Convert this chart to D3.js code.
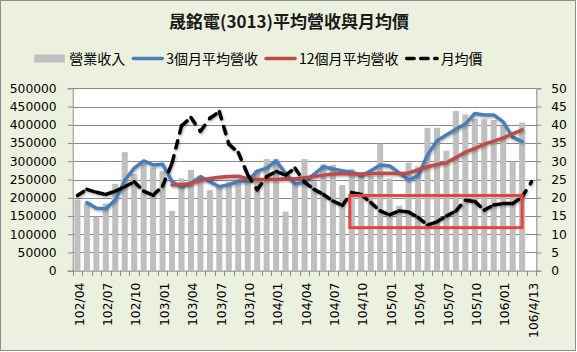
<!DOCTYPE html>
<html><head><meta charset="utf-8">
<script src="https://cdn.jsdelivr.net/npm/d3@7"></script>
<style>body{margin:0;background:#fff}</style>
</head><body>
<svg id="c" width="577" height="352"></svg>
<script>
const title = "晟銘電(3013)平均營收與月均價";
const legendLabels = ["營業收入", "3個月平均營收", "12個月平均營收", "月均價"];
const months = ["102/04","102/05","102/06","102/07","102/08","102/09","102/10","102/11","102/12",
  "103/01","103/02","103/03","103/04","103/05","103/06","103/07","103/08","103/09","103/10","103/11","103/12",
  "104/01","104/02","104/03","104/04","104/05","104/06","104/07","104/08","104/09","104/10","104/11","104/12",
  "105/01","105/02","105/03","105/04","105/05","105/06","105/07","105/08","105/09","105/10","105/11","105/12",
  "106/01","106/02","106/03","106/4/13"];
const revenue = [195000,185000,148000,184000,238000,325000,265000,295000,283000,
  273000,164000,253000,276000,258000,221000,235000,244000,250000,245000,276000,306000,
  306000,162000,240000,306000,245000,292000,290000,235000,279000,268000,259000,348000,
  253000,178000,296000,286000,392000,392000,329000,438000,428000,416000,415000,413000,
  397000,299000,406000,null];
const avg3 = [null,187000,171000,170000,194000,248000,281000,301000,290000,
  292000,244000,230000,240000,258000,244000,230000,236000,245000,246000,273000,281000,
  301000,267000,238000,242000,264000,285000,279000,274000,270000,261000,274000,290000,
  287000,269000,249000,260000,317000,356000,372000,388000,402000,431000,427000,427000,
  408000,366000,354000,null];
const avg12 = [null,null,null,null,null,null,null,null,null,
  null,235000,236000,240000,248000,253000,256000,258000,259000,252000,250000,250000,
  250000,252000,252000,255000,258000,262000,265000,266000,266000,265000,266000,267000,
  267000,266000,268000,276000,285000,291000,296000,310000,325000,335000,347000,355000,
  364000,375000,386000,null];
const price = [20.6,22.3,21.5,20.9,21.8,23.0,24.4,21.8,20.7,
  23.2,29.5,39.7,42.0,38.2,41.8,43.6,34.7,32.4,26.3,22.2,25.8,
  27.2,26.2,28.1,24.3,22.3,20.9,19.1,17.9,21.4,20.9,18.7,16.4,
  15.3,16.4,16.1,14.6,12.5,13.4,15.0,16.4,19.3,19.0,16.6,18.0,
  18.4,18.4,20.2,24.4];
const leftTicks = [0,50000,100000,150000,200000,250000,300000,350000,400000,450000,500000];
const rightTicks = [0,5,10,15,20,25,30,35,40,45,50];
// annotation box (category span and price span)
const boxMonths = ["104/09", "106/03"];
const boxPrice = [11.8, 20.6];

const svg = d3.select("#c");
const W = 577, H = 352;
const P = {l: 72.7, r: 536.3, t: 88.3, b: 270.7};
const tickFont = "'DejaVu Sans', Verdana, sans-serif";
const cjkFont = "'Noto Sans CJK TC', 'Noto Sans CJK SC', sans-serif";

svg.append("rect").attr("x",0.5).attr("y",0.5).attr("width",W-2).attr("height",H-2)
  .attr("fill","#ebf1de").attr("stroke","#8c8c8c");

const defs = svg.append("defs");
const f = defs.append("filter").attr("id","sh").attr("x","-10%").attr("y","-10%").attr("width","120%").attr("height","130%");
f.append("feDropShadow").attr("dx",0.8).attr("dy",1.5).attr("stdDeviation",0.9).attr("flood-color","#000").attr("flood-opacity",0.3);

const x = d3.scaleBand().domain(months).range([P.l, P.r]).paddingInner(0.36).paddingOuter(0.18);
const step = x.step();
const cx = m => x(m) + x.bandwidth()/2;
const yL = d3.scaleLinear().domain([0,500000]).range([P.b, P.t]);
const yR = d3.scaleLinear().domain([0,50]).range([P.b, P.t]);

// plot area
svg.append("rect").attr("x",P.l).attr("y",P.t).attr("width",P.r-P.l).attr("height",P.b-P.t).attr("fill","#fff");
svg.append("g").selectAll("line").data(leftTicks.slice(1)).join("line")
  .attr("x1",P.l).attr("x2",P.r).attr("y1",d=>Math.round(yL(d))+0.5).attr("y2",d=>Math.round(yL(d))+0.5)
  .attr("stroke","#8a8a8a").attr("stroke-width",1);

// bars
svg.append("g").selectAll("rect").data(months.map((m,i)=>({m,v:revenue[i]})).filter(d=>d.v!=null)).join("rect")
  .attr("x",d=>x(d.m)).attr("width",x.bandwidth())
  .attr("y",d=>yL(d.v)).attr("height",d=>yL(0)-yL(d.v)).attr("fill","#bfbfbf");

// axes
const axL = d3.axisLeft(yL).tickValues(leftTicks).tickFormat(d=>String(d)).tickSize(5).tickPadding(11);
const gL = svg.append("g").attr("transform",`translate(${P.l},0)`).call(axL);
const axR = d3.axisRight(yR).tickValues(rightTicks).tickFormat(d=>String(d)).tickSize(5).tickPadding(10);
const gR = svg.append("g").attr("transform",`translate(${P.r},0)`).call(axR);
const axB = d3.axisBottom(x).tickSize(0).tickFormat((d,i)=> i%3===0 ? d : "");
const gB = svg.append("g").attr("transform",`translate(0,${P.b})`).call(axB);
[gL,gR,gB].forEach(g=>{
  g.selectAll(".domain").attr("stroke","#8a8a8a");
  g.selectAll(".tick line").attr("stroke","#8a8a8a");
  g.selectAll("text").attr("font-family",tickFont).attr("font-size",12.3).attr("fill","#000");
});
gB.selectAll(".domain").attr("d",`M${P.l},0.5H${P.r}`);
gB.selectAll(".tick text").attr("text-anchor","end").attr("transform","rotate(-90)")
  .attr("x",-12).attr("y",0).attr("dy","0.5em");
// category boundary ticks
svg.append("g").selectAll("line").data(d3.range(months.length+1)).join("line")
  .attr("x1",i=>Math.round(P.l + i*step)+0.5).attr("x2",i=>Math.round(P.l + i*step)+0.5)
  .attr("y1",P.b).attr("y2",P.b+5).attr("stroke","#8a8a8a");

// lines
const lineL = d3.line().defined(d=>d.v!=null).x(d=>cx(d.m)).y(d=>yL(d.v));
svg.append("path").datum(months.map((m,i)=>({m,v:avg3[i]})))
  .attr("d",lineL).attr("fill","none").attr("stroke","#4a7ebb").attr("stroke-width",3.5)
  .attr("stroke-linejoin","round").attr("stroke-linecap","round").attr("filter","url(#sh)");
svg.append("path").datum(months.map((m,i)=>({m,v:avg12[i]})))
  .attr("d",lineL).attr("fill","none").attr("stroke","#be4b48").attr("stroke-width",3.5)
  .attr("stroke-linejoin","round").attr("stroke-linecap","round").attr("filter","url(#sh)");

// price: dashed, pattern restarting per segment
const pts = months.map((m,i)=>[cx(m), yR(price[i])]);
const segs = d3.pairs(pts);
const gP = svg.append("g").attr("filter","url(#sh)");
gP.selectAll("path").data(segs).join("path")
  .attr("d",d=>d3.line()(d)).attr("fill","none").attr("stroke","#000").attr("stroke-width",3.5)
  .attr("stroke-linecap","round").attr("stroke-dasharray","7.5,8");

// annotation box
const bx0 = cx(boxMonths[0]) - 2, bx1 = cx(boxMonths[1]);
svg.append("rect").attr("x",bx0).attr("y",yR(boxPrice[1])).attr("width",bx1-bx0)
  .attr("height",yR(boxPrice[0])-yR(boxPrice[1])).attr("fill","none").attr("stroke","#e8423c").attr("stroke-width",3);

// title
svg.append("text").attr("x",289).attr("y",28).attr("text-anchor","middle")
  .attr("font-family",cjkFont).attr("font-weight","bold").attr("font-size",17).attr("fill","#1a1a1a").text(title);

// legend
const lg = svg.append("g").attr("font-family",cjkFont).attr("font-size",14);
let lx = 34.3; const ly = 58.5;
legendLabels.forEach((lab,i)=>{
  if(i===0){
    lg.append("rect").attr("x",lx).attr("y",ly-4).attr("width",30.5).attr("height",8).attr("fill","#bfbfbf");
    lx += 35;
  } else if(i<3){
    lg.append("line").attr("x1",lx+1.5).attr("x2",lx+30.5).attr("y1",ly).attr("y2",ly)
      .attr("stroke", i===1 ? "#4a7ebb" : "#be4b48").attr("stroke-width",3.5).attr("stroke-linecap","round");
    lx += 34.5;
  } else {
    lg.append("line").attr("x1",lx+1.5).attr("x2",lx+32).attr("y1",ly).attr("y2",ly)
      .attr("stroke","#000").attr("stroke-width",3.5).attr("stroke-linecap","round").attr("stroke-dasharray","7.5,6.5");
    lx += 35.5;
  }
  const t = lg.append("text").attr("x",lx).attr("y",ly).attr("dy","0.36em").attr("fill","#000").text(lab);
  lx += t.node().getComputedTextLength() + 6.5;
});
</script>
</body></html>
